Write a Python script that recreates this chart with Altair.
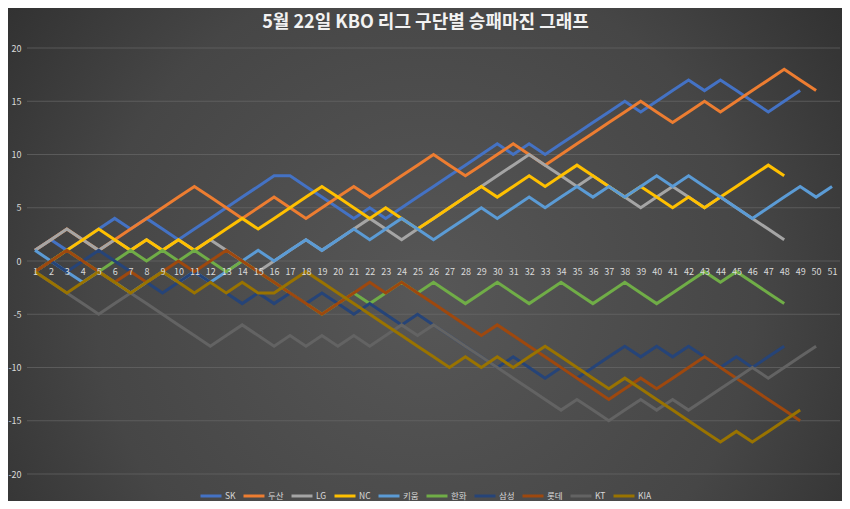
import altair as alt
import pandas as pd

games = list(range(1, 52))
teams = ["SK", "두산", "LG", "NC", "키움", "한화", "삼성", "롯데", "KT", "KIA"]
colors = ["#4472C4", "#ED7D31", "#A5A5A5", "#FFC000", "#5B9BD5",
          "#70AD47", "#264478", "#9E480E", "#636363", "#997300"]
y_ticks = [-20, -15, -10, -5, 0, 5, 10, 15, 20]
title_text = "5월 22일 KBO 리그 구단별 승패마진 그래프"

sk = [1, 2, 1, 2, 3, 4, 3, 4, 3, 2, 3, 4, 5, 6, 7, 8, 8, 7, 6, 5, 4, 5, 4, 5, 6,
      7, 8, 9, 10, 11, 10, 11, 10, 11, 12, 13, 14, 15, 14, 15, 16, 17, 16, 17, 16,
      15, 14, 15, 16]
doosan = [1, 2, 3, 2, 1, 2, 3, 4, 5, 6, 7, 6, 5, 4, 5, 6, 5, 4, 5, 6, 7, 6, 7, 8,
          9, 10, 9, 8, 9, 10, 11, 10, 9, 10, 11, 12, 13, 14, 15, 14, 13, 14, 15, 14,
          15, 16, 17, 18, 17, 16]
lg = [1, 2, 3, 2, 1, 2, 1, 2, 1, 2, 1, 2, 1, 0, -1, 0, 1, 2, 1, 2, 3, 4, 3, 2, 3,
      4, 5, 6, 7, 8, 9, 10, 9, 8, 7, 8, 7, 6, 5, 6, 7, 6, 5, 6, 5, 4, 3, 2]
nc = [-1, 0, 1, 2, 3, 2, 1, 2, 1, 2, 1, 2, 3, 4, 3, 4, 5, 6, 7, 6, 5, 4, 5, 4, 3,
      4, 5, 6, 7, 6, 7, 8, 7, 8, 9, 8, 7, 6, 7, 6, 5, 6, 5, 6, 7, 8, 9, 8]
kiwoom = [1, 0, -1, -2, -1, -2, -3, -2, -1, -2, -1, -2, -1, 0, 1, 0, 1, 2, 1, 2, 3,
          2, 3, 4, 3, 2, 3, 4, 5, 4, 5, 6, 5, 6, 7, 6, 7, 6, 7, 8, 7, 8, 7, 6, 5, 4,
          5, 6, 7, 6, 7]
hanwha = [-1, 0, 1, 0, -1, 0, 1, 0, 1, 0, 1, 0, -1, 0, -1, -2, -3, -4, -5, -4, -3,
          -4, -3, -2, -3, -2, -3, -4, -3, -2, -3, -4, -3, -2, -3, -4, -3, -2, -3, -4,
          -3, -2, -1, -2, -1, -2, -3, -4]
samsung = [-1, 0, -1, 0, 1, 0, -1, -2, -3, -2, -1, -2, -3, -4, -3, -4, -3, -4, -3,
           -4, -5, -4, -5, -6, -5, -6, -7, -8, -9, -10, -9, -10, -11, -10, -11, -10,
           -9, -8, -9, -8, -9, -8, -9, -10, -9, -10, -9, -8]
lotte = [-1, 0, 1, 0, -1, -2, -1, -2, -1, 0, -1, 0, 1, 0, -1, -2, -3, -4, -5, -4,
         -3, -2, -3, -2, -3, -4, -5, -6, -7, -6, -7, -8, -9, -10, -11, -12, -13, -12,
         -11, -12, -11, -10, -9, -10, -11, -12, -13, -14, -15]
kt = [-1, -2, -3, -4, -5, -4, -3, -4, -5, -6, -7, -8, -7, -6, -7, -8, -7, -8, -7,
      -8, -7, -8, -7, -6, -7, -6, -7, -8, -9, -10, -11, -12, -13, -14, -13, -14, -15,
      -14, -13, -14, -13, -14, -13, -12, -11, -10, -11, -10, -9, -8]
kia = [-1, -2, -3, -2, -1, -2, -3, -2, -1, -2, -3, -2, -3, -2, -3, -3, -2, -1, -2,
       -3, -4, -5, -6, -7, -8, -9, -10, -9, -10, -9, -10, -9, -8, -9, -10, -11, -12,
       -11, -12, -13, -14, -15, -16, -17, -16, -17, -16, -15, -14]

series = [sk, doosan, lg, nc, kiwoom, hanwha, samsung, lotte, kt, kia]

FONT = "Noto Sans CJK KR"
W, H = 813, 426

color_enc = alt.Color(
    "team:N",
    scale=alt.Scale(domain=teams, range=colors),
    legend=alt.Legend(
        orient="none", legendX=172, legendY=436, direction="horizontal",
        columns=10, gridAlign="each", title=None, symbolType="stroke",
        symbolStrokeWidth=3, symbolSize=441, labelFontSize=8.5,
        labelColor="#D9D9D9", labelOffset=2, columnPadding=1, labelFont=FONT,
        zindex=2,
    ),
)
x_enc = alt.X(
    "game:Q",
    scale=alt.Scale(domain=[0.5, 51.5], nice=False, zero=False),
    axis=alt.Axis(
        values=games, orient="bottom", offset=-H / 2, domain=False, ticks=False,
        grid=False, labelPadding=6, labelColor="#D9D9D9", labelFontSize=9,
        labelFont=FONT, title=None, zindex=2, labelFlush=False,
        labelOverlap=False, labelExpr="'' + datum.value",
    ),
)
y_enc = alt.Y(
    "margin:Q",
    scale=alt.Scale(domain=[-20, 20], nice=False, zero=False),
    axis=alt.Axis(
        values=y_ticks, domain=False, ticks=False, grid=False,
        labelPadding=6, labelColor="#D9D9D9", labelFontSize=9,
        labelFont=FONT, title=None, zindex=2, labelExpr="'' + datum.value",
    ),
)

bg = alt.Chart(pd.DataFrame({"a": [0]})).mark_rect(
    fill={
        "gradient": "radial",
        "x1": 0.5, "y1": 0.55, "r1": 0,
        "x2": 0.5, "y2": 0.55, "r2": 0.72,
        "stops": [
            {"offset": 0, "color": "#575757"},
            {"offset": 0.55, "color": "#464646"},
            {"offset": 1, "color": "#272727"},
        ],
    },
    stroke=None,
).encode(
    x=alt.value(-19), x2=alt.value(W + 2), y=alt.value(-40), y2=alt.value(H + 27)
)

grid = alt.Chart(pd.DataFrame({"margin": y_ticks})).mark_rule(
    color="#6a6a6a", opacity=0.65, strokeWidth=1
).encode(y=y_enc)

layers = [bg, grid]
for team, vals in zip(teams, series):
    df = pd.DataFrame({"game": games[: len(vals)], "margin": vals, "team": team})
    layers.append(
        alt.Chart(df).mark_line(strokeWidth=3, clip=False).encode(
            x=x_enc, y=y_enc, color=color_enc
        )
    )

chart = alt.layer(*layers).properties(
    width=W,
    height=H,
    padding={"left": 19, "top": 40, "right": 2, "bottom": 27},
    autosize=alt.AutoSizeParams(type="none"),
    title=alt.Title(
        title_text, fontSize=18, fontWeight="bold", color="#F2F2F2", font=FONT,
        baseline="bottom", offset=-42, anchor="middle", dx=-8, zindex=2,
    ),
).configure(
    background="#333333", font=FONT
).configure_view(stroke=None)

chart.save("out.html", embed_options={"renderer": "svg", "actions": False})
